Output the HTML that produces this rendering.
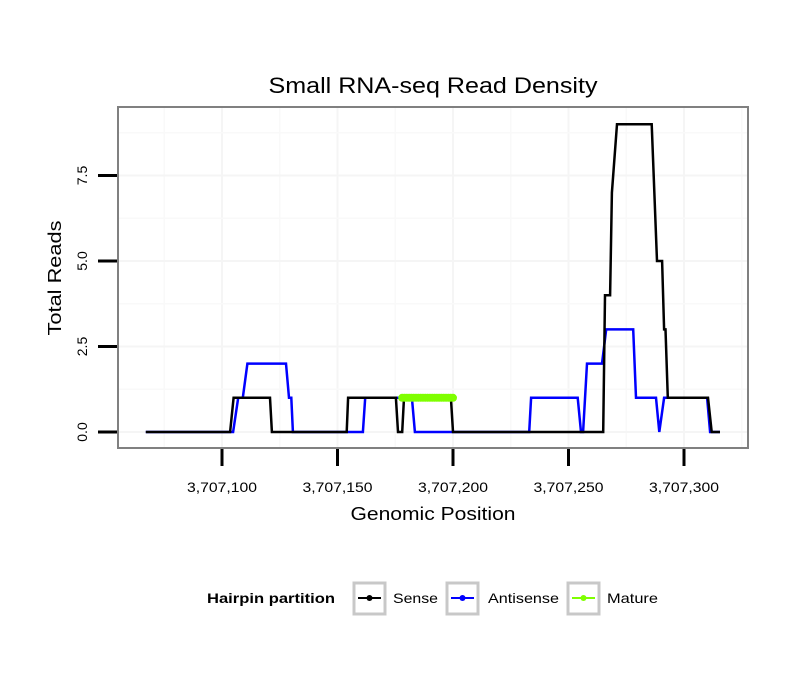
<!DOCTYPE html>
<html><head><meta charset="utf-8">
<style>
html,body{margin:0;padding:0;background:#fff;}
svg{display:block;font-family:"Liberation Sans",sans-serif;}
</style></head>
<body>
<svg id="chart" width="810" height="690" viewBox="0 0 810 690" xmlns="http://www.w3.org/2000/svg">
<rect x="0" y="0" width="810" height="690" fill="#fff"/>
<text x="433" y="93" font-size="22" text-anchor="middle" textLength="329" lengthAdjust="spacingAndGlyphs" fill="#000">Small RNA-seq Read Density</text>
<g id="grid"></g>
<g id="series"></g>
<rect x="118" y="107" width="630" height="341" fill="none" stroke="#808080" stroke-width="2"/>
<g id="axes"></g>
<text x="433" y="520" font-size="18" text-anchor="middle" textLength="165" lengthAdjust="spacingAndGlyphs">Genomic Position</text>
<text transform="translate(61,278) rotate(-90)" font-size="18" text-anchor="middle" textLength="115" lengthAdjust="spacingAndGlyphs">Total Reads</text>
<g>
<text x="207" y="603" font-size="14" font-weight="bold" textLength="128" lengthAdjust="spacingAndGlyphs">Hairpin partition</text>
<g>
<rect x="354" y="583" width="31" height="31" fill="#fff" stroke="#c8c8c8" stroke-width="3"/>
<line x1="358" y1="598" x2="381" y2="598" stroke="#000" stroke-width="2"/><circle cx="369.5" cy="598" r="3" fill="#000"/>
<text x="393" y="603" font-size="14" textLength="45" lengthAdjust="spacingAndGlyphs">Sense</text></g>
<g>
<rect x="447" y="583" width="31" height="31" fill="#fff" stroke="#c8c8c8" stroke-width="3"/>
<line x1="451" y1="598" x2="474" y2="598" stroke="#0000ff" stroke-width="2"/><circle cx="462.5" cy="598" r="3" fill="#0000ff"/>
<text x="488" y="603" font-size="14" textLength="71" lengthAdjust="spacingAndGlyphs">Antisense</text></g>
<g>
<rect x="568" y="583" width="31" height="31" fill="#fff" stroke="#c8c8c8" stroke-width="3"/>
<line x1="572" y1="598" x2="595" y2="598" stroke="#7fff00" stroke-width="2"/><circle cx="583.5" cy="598" r="3" fill="#7fff00"/>
<text x="607" y="603" font-size="14" textLength="51" lengthAdjust="spacingAndGlyphs">Mature</text></g>
</g>
</svg>
<script>
const xTicks = [3707100, 3707150, 3707200, 3707250, 3707300];
const xTickLabels = ["3,707,100", "3,707,150", "3,707,200", "3,707,250", "3,707,300"];
const yTicks = [0, 2.5, 5, 7.5];
const yTickLabels = ["0.0", "2.5", "5.0", "7.5"];
const sensePos = [67,103.5,105,120.8,121.6,154,154.6,175.3,176.2,178,178.8,199.1,200,265,265.8,268,268.8,271,286,288.3,290.5,291.4,292,293,310.4,312,315.6];
const senseVal = [0,0,1,1,0,0,1,1,0,0,1,1,0,0,4,4,7,9,9,5,5,3,3,1,1,0,0];
const antiPos = [67,104.8,107,109,111,127.7,129,130,130.7,161,162,182.2,183.5,233,233.8,254,255.4,256.3,258,264.5,266.3,278,279.2,287.9,289.3,291.4,310,311.3,315.6];
const antiVal = [0,0,1,1,2,2,1,1,0,0,1,1,0,0,1,1,0,0,2,2,3,3,1,1,0,1,1,0,0];
const maturePos = [178,179,180,181,182,183,184,185,186,187,188,189,190,191,192,193,194,195,196,197,198,199,200];
const matureVal = [1,1,1,1,1,1,1,1,1,1,1,1,1,1,1,1,1,1,1,1,1,1,1];
const BASE = 3707000;
const X0 = 222, XS = 115.5/50, Y0 = 432, YS = 34.2;
function sx(p){ return X0 + (p - 100) * XS; }
function sy(v){ return Y0 - v * YS; }
function sxAbs(p){ return sx(p - BASE); }
const NS = "http://www.w3.org/2000/svg";
function mk(tag, attrs, parent){ const e = document.createElementNS(NS, tag); for (const k in attrs) e.setAttribute(k, attrs[k]); parent.appendChild(e); return e; }
const grid = document.getElementById('grid');
const axes = document.getElementById('axes');
const series = document.getElementById('series');
for (let p = 75; p <= 325; p += 25) {
  const x = sx(p);
  if (x < 119 || x > 747) continue;
  const l = mk('line', {x1:x, x2:x, y1:108, y2:447, stroke: p % 50 === 0 ? '#f5f5f5' : '#f9f9f9', 'stroke-width': p % 50 === 0 ? 2 : 1.5}, grid);
  
  
}
for (let v = 0; v <= 10; v += 1.25) {
  const y = sy(v);
  if (y < 108 || y > 447) continue;
  const l = mk('line', {x1:119, x2:747, y1:y, y2:y, stroke: (v % 2.5 === 0) ? '#f5f5f5' : '#f9f9f9', 'stroke-width': (v % 2.5 === 0) ? 2 : 1.5}, grid);
  
  
}
xTicks.forEach((t, i) => {
  const x = sxAbs(t);
  const l = mk('line', {x1:x, x2:x, y1:449, y2:466, stroke:'#000', 'stroke-width':3}, axes);
  
  
  const tx = mk('text', {x:x, y:492, 'font-size':14, 'text-anchor':'middle', textLength:70, lengthAdjust:'spacingAndGlyphs'}, axes);
  tx.textContent = xTickLabels[i];
  
  
});
yTicks.forEach((t, i) => {
  const y = sy(t);
  const l = mk('line', {x1:98, x2:117, y1:y, y2:y, stroke:'#000', 'stroke-width':3}, axes);
  
  
  const tx = mk('text', {transform:`translate(87,${y}) rotate(-90)`, 'font-size':14, 'text-anchor':'middle'}, axes);
  tx.textContent = yTickLabels[i];
  
  
});
function drawLine(pos, val, color, name){
  const pts = pos.map((p, i) => sx(p).toFixed(1) + ',' + sy(val[i]).toFixed(1)).join(' ');
  const pl = mk('polyline', {points:pts, fill:'none', stroke:color, 'stroke-width':2.5, 'stroke-linejoin':'miter'}, series);
  
  
}
drawLine(antiPos, antiVal, '#0000ff', 'antisense-line');
drawLine(sensePos, senseVal, '#000000', 'sense-line');
drawLine(maturePos, matureVal, '#7fff00', 'mature-line');
maturePos.forEach((p, i) => {
  const c = mk('circle', {cx:sx(p), cy:sy(matureVal[i]), r:4, fill:'#7fff00'}, series);
  
  
});
</script>
</body></html>
